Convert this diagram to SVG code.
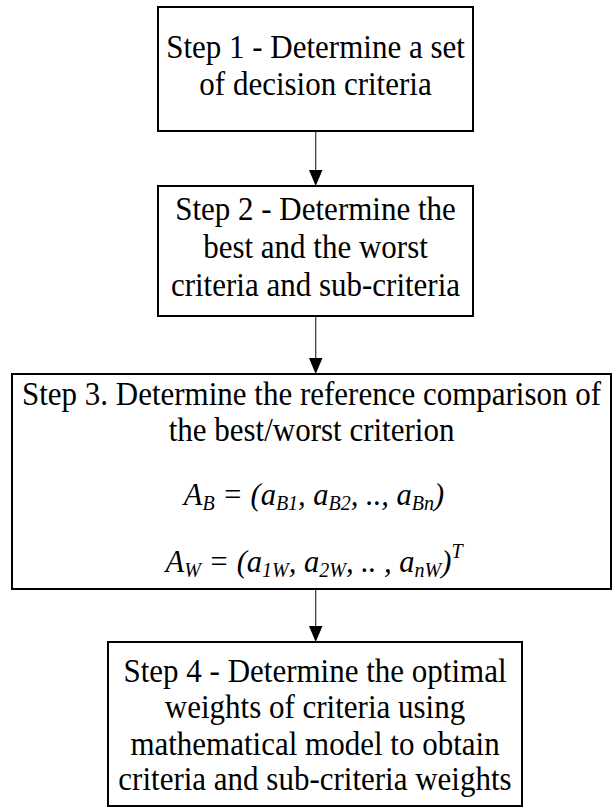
<svg xmlns="http://www.w3.org/2000/svg" width="613" height="812" viewBox="0 0 613 812">
<style>
.box{fill:#fff;stroke:#000;stroke-width:2}
text{font-family:'Liberation Serif','Times New Roman',serif;fill:#000;text-anchor:middle}
.t{font-size:31px}
.m{font-size:30.5px;font-style:italic}
.s{font-size:20px}
.c{stroke:#444;stroke-width:1.3;fill:none}
.ah{fill:#000}
</style>
<rect width="613" height="812" fill="#fff"/>
<g id="connectors">
<line class="c" x1="315.7" y1="131" x2="315.7" y2="172"/>
<line class="c" x1="315.7" y1="316" x2="315.7" y2="360"/>
<line class="c" x1="315.7" y1="589" x2="315.7" y2="628"/>
<path class="ah" d="M309,170 L322.5,170 L315.7,186 Z"/>
<path class="ah" d="M309,358 L322.5,358 L315.7,374 Z"/>
<path class="ah" d="M309,626 L322.5,626 L315.7,642 Z"/>
</g>
<g id="step1">
<rect class="box" x="158" y="7" width="315" height="124"/>
<text class="t" transform="translate(315.5,58) scale(1,1.12)">Step 1 - Determine a set</text>
<text class="t" transform="translate(315.5,95) scale(1,1.12)">of decision criteria</text>
</g>
<g id="step2">
<rect class="box" x="158" y="186" width="315" height="130"/>
<text class="t" transform="translate(315.5,220) scale(1,1.12)">Step 2 - Determine the</text>
<text class="t" transform="translate(315.5,258) scale(1,1.12)">best and the worst</text>
<text class="t" transform="translate(315.5,296) scale(1,1.12)">criteria and sub-criteria</text>
</g>
<g id="step3">
<rect class="box" x="12" y="374" width="599" height="215"/>
<text class="t" transform="translate(311.5,405) scale(1,1.12)">Step 3. Determine the reference comparison of</text>
<text class="t" transform="translate(311.5,441) scale(1,1.12)">the best/worst criterion</text>
<text class="m" x="314" y="505">A<tspan class="s" dy="5">B</tspan><tspan dy="-5"> = (a</tspan><tspan class="s" dy="5">B1</tspan><tspan dy="-5">, a</tspan><tspan class="s" dy="5">B2</tspan><tspan dy="-5">, .., a</tspan><tspan class="s" dy="5">Bn</tspan><tspan dy="-5">)</tspan></text>
<text class="m" x="314" y="572">A<tspan class="s" dy="5">W</tspan><tspan dy="-5"> = (a</tspan><tspan class="s" dy="5">1W</tspan><tspan dy="-5">, a</tspan><tspan class="s" dy="5">2W</tspan><tspan dy="-5">, .. , a</tspan><tspan class="s" dy="5">nW</tspan><tspan dy="-5">)</tspan><tspan class="s" dy="-14">T</tspan></text>
</g>
<g id="step4">
<rect class="box" x="108" y="642" width="414" height="164"/>
<text class="t" transform="translate(315,682) scale(1,1.12)">Step 4 - Determine the optimal</text>
<text class="t" transform="translate(315,718) scale(1,1.12)">weights of criteria using</text>
<text class="t" transform="translate(315,755) scale(1,1.12)">mathematical model to obtain</text>
<text class="t" transform="translate(315,790) scale(1,1.12)">criteria and sub-criteria weights</text>
</g>
</svg>
